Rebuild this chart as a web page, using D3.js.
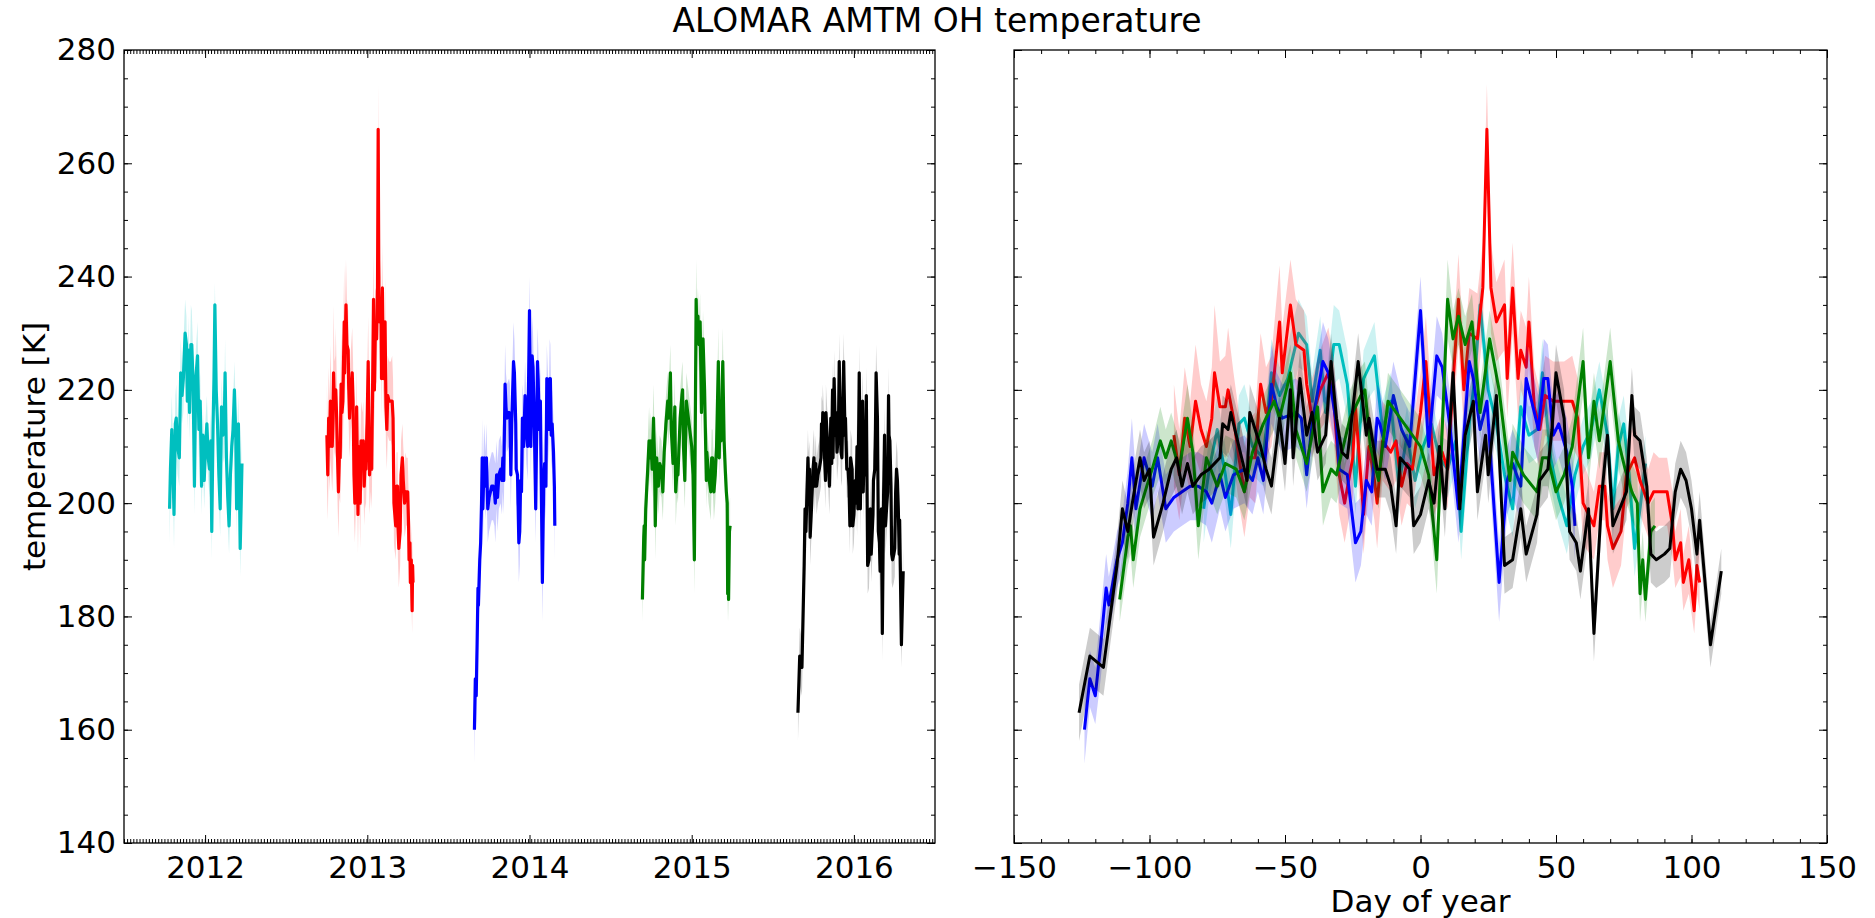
<!DOCTYPE html>
<html><head><meta charset="utf-8">
<script src="https://cdn.jsdelivr.net/npm/d3@7"></script>
<style>
html,body{margin:0;padding:0;background:#fff;}
svg{display:block;}
text{font-family:"DejaVu Sans",sans-serif;fill:#000;}
</style></head><body>
<svg id="chart" width="1875" height="918"></svg>
<script>
// Nightly OH temperatures per winter season: [day of year, temperature (K), uncertainty (K)]
// Days before 1 January are negative and belong to the season ending in the given year.
const season2012 = [[-80,199,6],[-78,206,5],[-75,213,6],[-72,205,5],[-70,198,6],[-67,214,5],[-65,215,6],[-62,210,5],[-58,208,5],[-55,223,6],[-52,219,5],[-49,222,6],[-47,226,6],[-45,230,6],[-42,228,5],[-40,218,5],[-37,227,6],[-35,216,5],[-32,228,7],[-30,228,6],[-27,221,6],[-24,203,5],[-21,222,5],[-17,226,6],[-14,213,5],[-11,218,5],[-8,203,5],[-5,212,5],[-2,204,5],[1,210,5],[4,214,5],[7,208,4],[10,206,5],[13,211,5],[15,195,5],[18,214,5],[20,222,5],[22,235,4],[25,220,5],[28,214,5],[31,205,5],[34,199,5],[37,217,5],[40,212,5],[43,213,5],[45,223,6],[48,208,5],[51,201,5],[54,196,5],[57,205,5],[60,210,5],[63,213,5],[66,220,5],[69,212,5],[71,199,5],[73,210,5],[75,214,5],[77,205,5],[79,192,5],[81,199,5],[83,207,5]];
const season2013 = [[-91,212,9],[-89,205,8],[-87,215,9],[-85,210,8],[-83,218,10],[-81,213,8],[-79,210,8],[-77,215,9],[-76,223,12],[-74,217,8],[-72,217,9],[-71,220,11],[-69,215,8],[-67,208,8],[-65,202,8],[-63,208,7],[-61,208,8],[-59,221,9],[-57,216,8],[-55,218,8],[-52,232,10],[-51,223,8],[-48,235,8],[-46,228,8],[-43,227,7],[-42,221,7],[-40,215,7],[-37,220,7],[-34,223,8],[-32,218,7],[-30,205,7],[-28,200,7],[-25,208,7],[-24,217,7],[-21,198,7],[-19,210,7],[-17,204,7],[-16,200,8],[-14,211,7],[-11,209,7],[-9,211,7],[-7,203,7],[-5,207,7],[-3,206,7],[0,216,7],[2,225,8],[5,205,7],[8,209,7],[10,206,7],[14,236,8],[16,220,7],[18,230,8],[21,229,8],[23,238,8],[24.5,266,8],[26,238,8],[28,232,7],[31,235,8],[32,222,7],[34,238,8],[36,222,7],[37,227,7],[39,224,7],[40,232,8],[42,217,7],[44,213,7],[46,219,7],[49,218,7],[53,218,7],[56,218,8],[58,215,7],[60,200,7],[61,199,7],[64,196,6],[66,203,6],[68,203,6],[69,196,6],[71,192,7],[74,195,6],[76,205,6],[79,208,6],[81,204,6],[84,200,6],[86,202,7],[88,202,6],[91,202,6],[93,196,6],[94,190,5],[96,193,6],[97,186,5],[99,190,6],[101,181,4],[102,189,5],[103,186,5]];
const season2014 = [[-124,160,6],[-122,169,5],[-120,166,5],[-118,175,6],[-116,185,6],[-115,182,5],[-112,190,5],[-110,193,5],[-108,200,6],[-106.5,208,7],[-105,199,6],[-102,208,6],[-99,203,6],[-97,208,6],[-94,199,6],[-91,201,6],[-88,202,6],[-85,203,6],[-82,203,6],[-79,202,6],[-77,200,7],[-74,205,6],[-72,201,6],[-69,205,6],[-65,206,6],[-62,204,6],[-60,208,6],[-58,204,6],[-55,221,7],[-53,217,6],[-51,215,6],[-46,216,6],[-44,215,6],[-42,205,6],[-40,214,6],[-36,225,7],[-34,223,6],[-31,214,6],[-30,206,6],[-27,205,6],[-24,193,7],[-22,195,6],[-20,204,6],[-18,202,6],[-16,215,6],[-15,214,6],[-13,210,6],[-10,219,6],[-7,213,6],[-4,210,6],[0,234,6],[3,210,6],[6,226,7],[8,224,6],[11,213,6],[14,199,6],[18,225,6],[19.5,222,6],[22,213,6],[24.5,218,6],[29,186,7],[32,204,6],[34,207,6],[37,203,6],[39,222,6],[42,216,6],[43.5,213,6],[45.5,222,7],[47,222,6],[49,212,6],[51,214,6],[54,209,6],[56,203,6],[57,196,6]];
const season2015 = [[-111,183,4],[-108,194,5],[-107,196,5],[-106,190,5],[-103.5,199,5],[-101,203,5],[-99,206,5],[-96,211,6],[-94,208,5],[-92,211,5],[-89,206,5],[-86,215,6],[-84,209,5],[-82,196,6],[-79,208,5],[-75,203,5],[-72,207,5],[-68,206,5],[-65,202,5],[-62,209,5],[-58,214,5],[-54,218,5],[-52,215,5],[-48,223,5],[-46,213,5],[-42,207,5],[-38,217,5],[-36,202,6],[-33,206,5],[-31,205,5],[-26,215,5],[-22,219,5],[-20.5,220,5],[-18.5,210,5],[-15.5,204,5],[-12,218,5],[-7.5,215,5],[0,210,5],[3,205,5],[6,190,6],[10,236,7],[12,229,5],[14,233,5],[16.5,228,5],[19,232,5],[22,216,5],[25.5,229,5],[29,220,5],[33,204,5],[34,209,5],[38,205,5],[43,202,5],[45,208,5],[47,208,5],[50,202,5],[53,205,5],[56,210,5],[60,225,6],[62,208,5],[64,218,5],[66,211,5],[70,225,6],[73,211,5],[75.5,206,5],[78,202,5],[80,200,5],[81,184,5],[82,190,5],[83,183,4],[85,195,5],[86.5,196,5]];
const season2016 = [[-126,163,5],[-122,173,5],[-117,171,5],[-112,189,5],[-110,199,5],[-108,195,5],[-106,201,5],[-103.5,208,5],[-102,204,5],[-100,206,5],[-98.5,194,5],[-95,200,5],[-92,206,5],[-90,208,5],[-88,203,5],[-86,207,5],[-84,203,5],[-81,205,5],[-78,206,5],[-74,208,5],[-73,214,5],[-71,213,5],[-70,216,5],[-67,210,5],[-64,204,5],[-63,216,5],[-59,210,5],[-57,206,5],[-55,203,5],[-52,215,5],[-50,207,5],[-48,220,5],[-47,208,5],[-44.5,222,5],[-42,212,5],[-40,216,5],[-38,209,5],[-35,212,5],[-33,225,5],[-31,215,5],[-29,209,5],[-27,208,5],[-23,225,5],[-20,212,5],[-19,215,5],[-16,206,5],[-13,206,5],[-11,203,5],[-9,196,5],[-7.5,208,5],[-4,206,5],[-2.5,196,5],[0,198,5],[3,204,5],[5,200,5],[7,210,5],[9,199,5],[12,223,5],[14.5,199,5],[16.5,212,5],[19.5,218,5],[21,202,5],[24,212,5],[25,205,5],[28,219,5],[31,189,5],[34,190,5],[37,199,5],[39,191,5],[43,198,5],[44,204,5],[47,206,5],[48.5,213,5],[50,223,5],[53,215,5],[55,195,5],[57.5,193,5],[59,188,5],[62,199,5],[64,177,5],[67,202,5],[69,212,5],[71,196,5],[76,202,5],[78,219,5],[79,212,5],[81,211,5],[83.5,203,5],[85,191,5],[87,190,5],[90,191,5],[92,192,5],[94,202,5],[96,206,5],[98,204,5],[100,199,5],[102,191,5],[103,197,5],[107,175,4],[111,188,4]];

const seasonYears = [2012, 2013, 2014, 2015, 2016];
const seasonColors = ["#00bfbf", "#ff0000", "#0000ff", "#008000", "#000000"];
const seasonData = [season2012, season2013, season2014, season2015, season2016];

const yearTicks = [2012, 2013, 2014, 2015, 2016];
const dayTicks = [-150, -100, -50, 0, 50, 100, 150];
const tempTicks = [140, 160, 180, 200, 220, 240, 260, 280];

const titleText = "ALOMAR AMTM OH temperature";
const yLabelText = "temperature [K]";
const xLabelRight = "Day of year";

const svg = d3.select("#chart");
const plotTop = 50, plotBottom = 843;
const left1 = 124, right1 = 935, left2 = 1014, right2 = 1827;

const y = d3.scaleLinear().domain([140, 280]).range([plotBottom, plotTop]);
const xYear = d3.scaleLinear().domain([2011.5, 2016.5]).range([left1, right1]);
const xDay = d3.scaleLinear().domain([-150, 150]).range([left2, right2]);

const seasons = seasonYears.map((yr, i) => ({year: yr, color: seasonColors[i], data: seasonData[i]}));

// clip regions for the two panels
const defs = svg.append("defs");
defs.append("clipPath").attr("id", "clipL").append("rect")
  .attr("x", left1).attr("y", plotTop).attr("width", right1 - left1).attr("height", plotBottom - plotTop);
defs.append("clipPath").attr("id", "clipR").append("rect")
  .attr("x", left2).attr("y", plotTop).attr("width", right2 - left2).attr("height", plotBottom - plotTop);

function drawPanel(clipId, xOf, lw) {
  const g = svg.append("g").attr("clip-path", `url(#${clipId})`);
  seasons.forEach(s => {
    const area = d3.area()
      .x(d => xOf(s, d))
      .y0(d => y(d[1] - d[2]))
      .y1(d => y(d[1] + d[2]));
    const line = d3.line()
      .x(d => xOf(s, d))
      .y(d => y(d[1]));
    g.append("path").datum(s.data).attr("d", area)
      .attr("fill", s.color).attr("fill-opacity", 0.2).attr("stroke", "none");
    g.append("path").datum(s.data).attr("d", line)
      .attr("fill", "none").attr("stroke", s.color).attr("stroke-width", lw)
      .attr("stroke-linejoin", "round").attr("stroke-linecap", "butt");
  });
}

drawPanel("clipL", (s, d) => xYear(s.year + d[0] / 365.25), 3.2);
drawPanel("clipR", (s, d) => xDay(d[0]), 3);

// ticks point into the plotting area on all four sides
function axisSet(xScale, xMajor, xMinor, xFmt, showY, x0, x1) {
  const major = 8, minor = 4;
  const yMinor = d3.range(140, 281, 5);
  const groups = [
    svg.append("g").attr("transform", `translate(0,${plotBottom})`)
      .call(d3.axisBottom(xScale).tickValues(xMinor).tickSizeInner(-minor).tickSizeOuter(0).tickFormat("")),
    svg.append("g").attr("transform", `translate(0,${plotBottom})`)
      .call(d3.axisBottom(xScale).tickValues(xMajor).tickSizeInner(-major).tickSizeOuter(0).tickPadding(13).tickFormat(xFmt)),
    svg.append("g").attr("transform", `translate(0,${plotTop})`)
      .call(d3.axisTop(xScale).tickValues(xMinor).tickSizeInner(-minor).tickSizeOuter(0).tickFormat("")),
    svg.append("g").attr("transform", `translate(0,${plotTop})`)
      .call(d3.axisTop(xScale).tickValues(xMajor).tickSizeInner(-major).tickSizeOuter(0).tickFormat("")),
    svg.append("g").attr("transform", `translate(${x0},0)`)
      .call(d3.axisLeft(y).tickValues(yMinor).tickSizeInner(-minor).tickSizeOuter(0).tickFormat("")),
    svg.append("g").attr("transform", `translate(${x0},0)`)
      .call(d3.axisLeft(y).tickValues(tempTicks).tickSizeInner(-major).tickSizeOuter(0).tickPadding(8)
        .tickFormat(showY ? d3.format("d") : "")),
    svg.append("g").attr("transform", `translate(${x1},0)`)
      .call(d3.axisRight(y).tickValues(yMinor).tickSizeInner(-minor).tickSizeOuter(0).tickFormat("")),
    svg.append("g").attr("transform", `translate(${x1},0)`)
      .call(d3.axisRight(y).tickValues(tempTicks).tickSizeInner(-major).tickSizeOuter(0).tickFormat(""))
  ];
  groups.forEach(g => {
    g.select(".domain").remove();
    g.selectAll("line").attr("stroke", "#000").attr("stroke-width", 1);
    g.selectAll("text").style("font-family", "'DejaVu Sans', sans-serif").style("font-size", "31px").attr("fill", "#000");
  });
  svg.append("rect").attr("x", x0).attr("y", plotTop).attr("width", x1 - x0).attr("height", plotBottom - plotTop)
    .attr("fill", "none").attr("stroke", "#000").attr("stroke-width", 1.3);
}

// left panel: weekly minor ticks across the time span
const weekTicks = d3.range(2011.5, 2016.5001, 7 / 365.25);
axisSet(xYear, yearTicks, weekTicks, d3.format("d"), true, left1, right1);
// right panel: minor ticks every 10 days
const dayMinor = d3.range(-150, 151, 10);
axisSet(xDay, dayTicks, dayMinor, d3.format("d"), false, left2, right2);

// labels
svg.append("text").attr("x", 937).attr("y", 32).attr("text-anchor", "middle")
  .style("font-size", "33px").text(titleText);
svg.append("text").attr("transform", `translate(45,${(plotTop + plotBottom) / 2}) rotate(-90)`)
  .attr("text-anchor", "middle").style("font-size", "31px").text(yLabelText);
svg.append("text").attr("x", (left2 + right2) / 2).attr("y", 912).attr("text-anchor", "middle")
  .style("font-size", "31px").text(xLabelRight);
</script>
</body></html>
